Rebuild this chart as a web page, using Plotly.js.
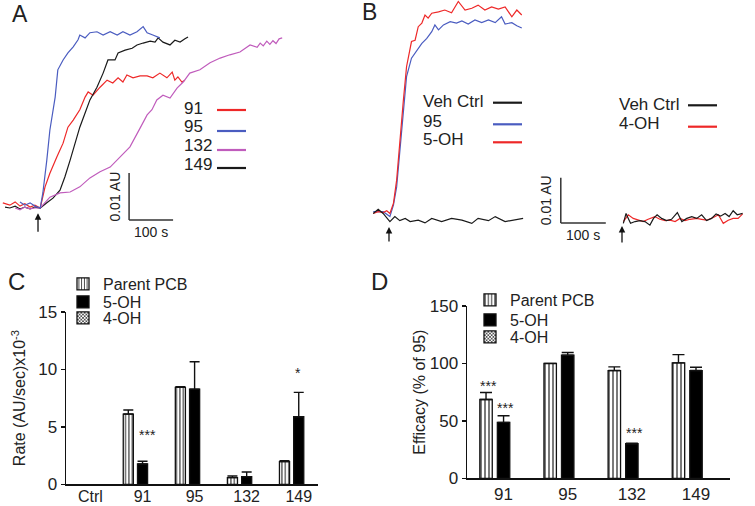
<!DOCTYPE html>
<html><head><meta charset="utf-8">
<script src="https://cdn.plot.ly/plotly-3.0.1.min.js"></script>
<style>html,body{margin:0;padding:0;background:#fff;}#chart{width:755px;height:506px;}</style>
</head><body><div id="chart"></div>
<script>
// ---------- Panel A : absorbance traces (time s after addition, absorbance mAU) ----------
const a91_t = [-80,-64,-52,-41,-30,-18,-7,5,16,27,43,57,68,80,95,107,114,125,141,157,170,182,193,202,216,232,248,261,277,293,305,311,318,327,334];
const a91_y = [1.1,0.6,1.3,0.4,0.9,0.2,0.6,0,4.5,7.4,10.9,13.8,17.2,18.7,20.9,23.6,24.7,24.0,25.7,27.2,26.6,27.7,26.8,28.3,27.7,28.1,28.1,27.7,28.7,27.7,28.9,27.2,27.9,26.8,27.2];
const a95_t = [-41,-30,-18,-7,5,11,20,27,39,45,57,68,80,91,95,107,118,134,148,164,180,193,209,225,239,248,261,273,277];
const a95_y = [1.3,0.6,1.1,0.4,0,3.2,10.2,16.6,23.6,29.4,31.5,33.0,34.3,35.8,36.8,36.2,37.3,37.5,36.8,37.5,36.8,37.5,36.8,37.5,38.6,37.3,36.8,36.4,36.2];
const a132_t = [-52,-41,-30,-18,-7,5,27,50,73,95,118,141,164,186,209,232,248,259,270,284,300,316,330,345,368,391,414,436,459,482,498,505,512,520,527,534,541,548,555];
const a132_y = [0,-0.4,0.2,-0.2,0,0,2.3,3.2,3.4,4.5,6.4,7.7,8.7,10.9,13.0,17.0,19.8,20.9,23.0,24.0,23.4,25.5,26.8,28.7,29.4,30.9,31.9,32.6,33.2,34.7,34.2,35.1,34.5,35.5,34.8,35.6,35.0,36.0,36.2];
const a149_t = [-75,-64,-52,-41,-30,-18,-7,5,20,34,50,61,73,84,95,107,118,134,148,159,175,182,198,214,225,239,255,266,273,284,300,311,323,334,341];
const a149_y = [0.2,0,0.4,-0.2,0.2,-0.2,0.2,0,1.1,2.1,3.8,6.6,10.2,13.8,17.2,20.2,23.0,25.7,28.7,31.5,31.5,33.0,33.6,34.0,34.7,35.1,35.5,35.3,36.2,35.3,34.7,35.7,35.3,36.0,36.4];

// ---------- Panel B (left): Veh Ctrl, 95, 5-OH ----------
const bVeh_t = [-35,-24,-13,2,13,24,36,47,65,80,95,117,139,162,184,198,221,236,258,280,298];
const bVeh_y = [-0.1,0.8,-0.1,-1.9,-0.8,-1.7,-1.2,-1.9,-1.6,-2.2,-1.2,-1.9,-1.2,-1.6,-2.3,-1.2,-1.7,-0.8,-1.9,-1.6,-1.2];
const b95_t = [-35,-13,2,10,17,24,32,39,50,62,73,84,95,102,110,121,136,150,162,176,191,206,221,236,250,258,273,284,295];
const b95_y = [0.3,0.3,-0.8,1.8,5.8,14.0,22.9,30.3,34.4,36.2,37.7,38.8,40.3,41.8,40.7,41.8,42.5,42.2,42.7,42.0,42.9,42.3,42.9,42.3,43.6,42.0,42.3,41.6,41.1];
const b5OH_t = [-35,-24,-13,-5,2,10,17,24,32,39,47,50,58,65,73,80,87,95,110,124,139,154,169,184,198,213,228,243,258,273,284,295];
const b5OH_y = [-0.1,0.3,0.1,0.5,-0.1,2.2,7.3,16.2,25.1,32.5,36.2,38.1,38.4,41.4,42.2,44.0,43.3,44.4,44.7,45.1,44.5,47.0,45.1,45.5,46.2,45.1,45.8,45.3,45.8,43.6,45.1,44.0];

// ---------- Panel B (right): Veh Ctrl, 4-OH ----------
const cVeh_t = [3,9,14,19,29,40,51,62,70,78,88,99,110,123,133,144,155,166,177,188,199,209,219,229,238,247,256,268];
const cVeh_y = [-0.3,1.9,0.8,-0.3,0.1,0.3,0.1,-0.7,0.8,1.6,0.8,0.3,0.6,2.1,0.1,0.8,1.2,0.8,1.6,0.3,0.8,1.8,1.3,1.9,1.2,2.5,1.6,1.9];
const c4OH_t = [3,14,25,36,47,58,73,84,96,107,118,129,140,151,166,177,188,203,214,225,236,247,258,268];
const c4OH_y = [0.1,1.6,0.8,0.4,0.1,0.6,1.2,0.6,0.3,0.4,0.1,0.8,0.3,0.6,0.8,0.6,0.4,1.0,1.6,-0.3,0.4,0.8,0.8,1.8];

// ---------- Panel C: rate ----------
const rateCats = ['Ctrl','91','95','132','149'];
const rateParent = [null,6.11,8.43,0.58,1.97];
const rateParentErr = [0,0.35,0.05,0.14,0.09];
const rate5OH = [null,1.77,8.28,0.67,5.88];
const rate5OHErr = [0,0.23,2.38,0.40,2.11];
const rate4OH = [null,null,null,null,null];

// ---------- Panel D: efficacy ----------
const effCats = ['91','95','132','149'];
const effParent = [68.6,100,93.8,100.5];
const effParentErr = [6.1,0,3.2,7.2];
const eff5OH = [48.7,107.2,30.1,93.8];
const eff5OHErr = [5.7,2.3,0.5,2.9];
const eff4OH = [null,null,null,null];

// ---------- styling ----------
const W = 755, H = 506;
const px = x => x / W, py = y => 1 - y / H;
const RED = '#ee2828', BLUE = '#4a5cc0', MAG = '#c05cbc', BLK = '#1a1a1a', TXT = '#222';
const FONT = 'Liberation Sans, Arial, sans-serif';
const lw = 1.2;

function line(x, y, color, xa, ya) {
  return {type:'scatter', mode:'lines', x:x, y:y, xaxis:xa, yaxis:ya,
          line:{color:color, width:lw}, showlegend:false, hoverinfo:'skip'};
}
const zeros = n => new Array(n).fill(0);
const stripes = s => ({shape:'|', size:s, solidity:0.28, fgcolor:'#111', bgcolor:'#fff', fillmode:'replace'});
const checks = {shape:'x', size:3, solidity:0.45, fgcolor:'#111', bgcolor:'#fff', fillmode:'replace'};
function bar(name, cats, vals, errs, xa, ya, leg, style, capw) {
  const t = {type:'bar', name:name, x:cats, y:vals, xaxis:xa, yaxis:ya, legend:leg,
    marker:Object.assign({line:{color:'#111', width:1.3}}, style), hoverinfo:'skip'};
  if (errs) t.error_y = {type:'data', array:errs, arrayminus:zeros(errs.length), symmetric:false,
    color:'#111', thickness:1.4, width:capw};
  return t;
}

const data = [
  line(a91_t, a91_y, RED, 'x', 'y'),
  line(a149_t, a149_y, BLK, 'x', 'y'),
  line(a132_t, a132_y, MAG, 'x', 'y'),
  line(a95_t, a95_y, BLUE, 'x', 'y'),
  line(b95_t, b95_y, BLUE, 'x2', 'y2'),
  line(b5OH_t, b5OH_y, RED, 'x2', 'y2'),
  line(bVeh_t, bVeh_y, BLK, 'x2', 'y2'),
  line(c4OH_t, c4OH_y, RED, 'x3', 'y3'),
  line(cVeh_t, cVeh_y, BLK, 'x3', 'y3'),
  bar('Parent PCB', rateCats, rateParent, rateParentErr, 'x4', 'y4', 'legend', {color:'#fff', pattern:stripes(3.4)}, 5),
  bar('5-OH', rateCats, rate5OH, rate5OHErr, 'x4', 'y4', 'legend2', {color:'#000'}, 5),
  bar('4-OH', rateCats, rate4OH, null, 'x4', 'y4', 'legend3', {color:'#fff', pattern:checks}),
  bar('Parent PCB', effCats, effParent, effParentErr, 'x5', 'y5', 'legend4', {color:'#fff', pattern:stripes(4)}, 6),
  bar('5-OH', effCats, eff5OH, eff5OHErr, 'x5', 'y5', 'legend5', {color:'#000'}, 6),
  bar('4-OH', effCats, eff4OH, null, 'x5', 'y5', 'legend6', {color:'#fff', pattern:checks}),
];

const hidden = {visible:false, fixedrange:true};
const barX = {type:'category', showline:true, linecolor:'#111', linewidth:1.5, showgrid:false,
  zeroline:false, fixedrange:true, ticks:''};
const barY = {showline:true, linecolor:'#111', linewidth:1.5, ticks:'outside', ticklen:4, tickwidth:1.5,
  tickcolor:'#111', showgrid:false, zeroline:false, tickfont:{size:17, color:TXT}, fixedrange:true};

const ann = [];
function txt(x, y, s, size, extra) {
  ann.push(Object.assign({xref:'paper', yref:'paper', x:px(x), y:py(y), text:s, showarrow:false,
    font:{size:size, color:TXT}, xanchor:'left', yanchor:'middle'}, extra || {}));
}
// panel letters
txt(19.5, 14.5, 'A', 23, {xanchor:'center'});
txt(369.5, 12.5, 'B', 23, {xanchor:'center'});
txt(16, 281, 'C', 24, {xanchor:'center'});
txt(379.5, 281, 'D', 24, {xanchor:'center'});
// panel A legend text
[['91',108.5],['95',126.5],['132',145],['149',164]].forEach(d => txt(182, d[1], d[0], 17));
// panel B legends
[['Veh Ctrl',101.5],['95',121.5],['5-OH',140]].forEach(d => txt(421, d[1], d[0], 17));
[['Veh Ctrl',104],['4-OH',123]].forEach(d => txt(617, d[1], d[0], 17));

const shapes = [];
function seg(x0, x1, y, color) {
  shapes.push({type:'line', xref:'paper', yref:'paper', x0:px(x0), x1:px(x1), y0:py(y), y1:py(y),
    line:{color:color, width:2.2}});
}
seg(217, 246, 110, RED); seg(217, 246, 131, BLUE); seg(217, 246, 150, MAG); seg(217, 246, 168, BLK);
seg(493, 522, 102.7, BLK); seg(493, 522, 124.3, BLUE); seg(493, 522, 142.3, RED);
seg(688, 717, 105.3, BLK); seg(688, 717, 126.7, RED);

// scale bars (0.01 AU = 10 mAU, 100 s)
function scaleBar(xa, ya, t0, y0) {
  shapes.push({type:'line', xref:xa, yref:ya, x0:t0, x1:t0, y0:y0, y1:y0 + 10, line:{color:'#333', width:1.5}});
  shapes.push({type:'line', xref:xa, yref:ya, x0:t0, x1:t0 + 100, y0:y0, y1:y0, line:{color:'#333', width:1.5}});
  ann.push({xref:xa, yref:ya, x:t0, y:y0 + 5, xshift:-14, text:'0.01 AU', textangle:-90, showarrow:false,
    font:{size:14, color:TXT}, xanchor:'center', yanchor:'middle'});
  ann.push({xref:xa, yref:ya, x:t0 + 50, y:y0, yshift:-12, text:'100 s', showarrow:false,
    font:{size:14, color:TXT}, xanchor:'center', yanchor:'middle'});
}
scaleBar('x', 'y', 207, -2.55);
scaleBar('x3', 'y3', -136, -0.2);

// addition arrows
function arrow(xa, ya, yHead, len) {
  ann.push({xref:xa, yref:ya, x:0, y:yHead, ax:0, ay:len, text:'', showarrow:true, arrowhead:2,
    arrowsize:1, arrowwidth:1.3, arrowcolor:'#111', standoff:0});
}
arrow('x', 'y', -1.1, 20);
arrow('x2', 'y2', -3.1, 16);
arrow('x3', 'y3', -0.9, 18);

// significance stars (x = category index)
function star(xa, ya, cats, cat, v, s, shift) {
  ann.push({xref:xa, yref:ya, x:cats.indexOf(cat), y:v, xshift:shift, text:s, showarrow:false,
    font:{size:14, color:TXT}, xanchor:'center', yanchor:'middle'});
}
star('x4', 'y4', rateCats, '91', 4.3, '***', 5);
star('x4', 'y4', rateCats, '149', 9.7, '*', -1);
star('x5', 'y5', effCats, '91', 80.6, '***', -15);
star('x5', 'y5', effCats, '91', 61, '***', 2);
star('x5', 'y5', effCats, '132', 39.2, '***', 3);

function leg(x, top) {
  return {x:px(x), y:py(top), xanchor:'left', yanchor:'top', bgcolor:'rgba(0,0,0,0)',
    font:{size:16, color:TXT}, itemclick:false};
}

const layout = {
  width:W, height:H, margin:{l:0, r:0, t:0, b:0}, paper_bgcolor:'#fff', plot_bgcolor:'rgba(0,0,0,0)',
  font:{family:FONT, color:TXT}, barmode:'group', bargap:0.18, bargroupgap:0.29,
  xaxis:Object.assign({domain:[0, px(300)], range:[-86.4, 595.5], anchor:'y'}, hidden),
  yaxis:Object.assign({domain:[py(240), 1], range:[-6.81, 44.26], anchor:'x'}, hidden),
  xaxis2:Object.assign({domain:[px(365), px(530)], range:[-53.3, 313.3], anchor:'y2'}, hidden),
  yaxis2:Object.assign({domain:[py(240), 1], range:[-6.0, 47.33], anchor:'x2'}, hidden),
  xaxis3:Object.assign({domain:[px(540), px(750)], range:[-182.2, 284.4], anchor:'y3'}, hidden),
  yaxis3:Object.assign({domain:[py(240), 1], range:[-4.0, 49.3], anchor:'x3'}, hidden),
  xaxis4:Object.assign({domain:[px(66), px(318)], range:[-0.47, 4.37], anchor:'y4',
    tickfont:{size:16, color:TXT}, ticklabelstandoff:-3}, barX),
  yaxis4:Object.assign({domain:[py(484.3), py(311.8)], range:[0, 15], tickvals:[0,5,10,15], anchor:'x4',
    title:{text:'Rate (AU/sec)x10<sup>-3</sup>', font:{size:16, color:TXT}, standoff:8}}, barY),
  xaxis5:Object.assign({domain:[px(467), px(730)], range:[-0.57, 3.53], anchor:'y5',
    tickfont:{size:17, color:TXT}}, barX),
  yaxis5:Object.assign({domain:[py(478.3), py(306)], range:[0, 150], tickvals:[0,50,100,150], anchor:'x5',
    title:{text:'Efficacy (% of 95)', font:{size:16, color:TXT}, standoff:0}}, barY),
  legend:leg(63, 267), legend2:leg(63, 285), legend3:leg(63, 301),
  legend4:leg(470, 283), legend5:leg(470, 303), legend6:leg(470, 320),
  annotations:ann, shapes:shapes
};

Plotly.newPlot('chart', data, layout, {displayModeBar:false, staticPlot:true});
</script>
</body></html>
